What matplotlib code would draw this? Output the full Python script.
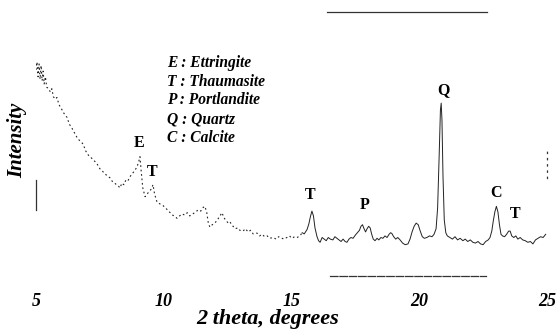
import matplotlib.pyplot as plt
import numpy as np

# ── Data ─────────────────────────────────────────────────────────────────────

two_theta = [
    5.00, 5.04, 5.08, 5.12, 5.16, 5.20, 5.24, 5.28, 5.32, 5.37,
    5.42, 5.50, 5.56, 5.62, 5.68, 5.75, 5.82, 5.90, 5.98, 6.06,
    6.14, 6.22, 6.30, 6.38, 6.45, 6.55, 6.65, 6.75, 6.84, 6.95,
    7.05, 7.15, 7.25, 7.39, 7.50, 7.60, 7.70, 7.80, 7.90, 8.00,
    8.08, 8.15, 8.22, 8.29, 8.36, 8.44, 8.52, 8.60, 8.68, 8.76,
    8.85, 8.95, 9.02, 9.07, 9.12, 9.18, 9.27, 9.35, 9.45, 9.52,
    9.58, 9.64, 9.74, 9.85, 9.97, 10.10, 10.22, 10.35, 10.45, 10.52,
    10.62, 10.72, 10.82, 10.92, 11.02, 11.14, 11.25, 11.35, 11.45, 11.52,
    11.61, 11.68, 11.75, 11.81, 11.90, 12.00, 12.10, 12.20, 12.28, 12.36,
    12.45, 12.52, 12.59, 12.70, 12.80, 12.90, 12.98, 13.10, 13.20, 13.30,
    13.40, 13.50, 13.65, 13.75, 13.85, 13.95, 14.05, 14.15, 14.28, 14.40,
    14.50, 14.60, 14.70, 14.82, 14.92, 15.02, 15.12, 15.22, 15.33, 15.42,
    15.50, 15.61, 15.68, 15.74, 15.80, 15.86, 15.92, 16.00, 16.06, 16.12,
    16.20, 16.28, 16.36, 16.44, 16.52, 16.62, 16.70, 16.78, 16.86, 16.94,
    17.02, 17.10, 17.17, 17.25, 17.33, 17.41, 17.50, 17.58, 17.66, 17.72,
    17.78, 17.84, 17.90, 17.96, 18.02, 18.08, 18.14, 18.20, 18.27, 18.35,
    18.42, 18.50, 18.58, 18.66, 18.74, 18.82, 18.88, 18.93, 19.00, 19.08,
    19.16, 19.25, 19.35, 19.45, 19.56, 19.64, 19.72, 19.80, 19.88, 19.96,
    20.04, 20.12, 20.20, 20.30, 20.40, 20.50, 20.58, 20.66, 20.72, 20.78,
    20.83, 20.86, 20.89, 20.93, 20.98, 21.04, 21.10, 21.20, 21.30, 21.40,
    21.50, 21.60, 21.71, 21.80, 21.90, 22.00, 22.10, 22.20, 22.30, 22.40,
    22.50, 22.60, 22.70, 22.77, 22.84, 22.90, 22.96, 23.02, 23.08, 23.14,
    23.20, 23.26, 23.34, 23.42, 23.50, 23.56, 23.62, 23.70, 23.78, 23.86,
    23.95, 24.05, 24.15, 24.25, 24.35, 24.45, 24.55, 24.65, 24.75, 24.85,
    24.95,
]
intensity = [
    515, 535, 498, 530, 492, 526, 488, 512, 480, 498,
    472, 468, 460, 468, 448, 442, 446, 428, 420, 410,
    402, 396, 380, 372, 365, 352, 342, 336, 330, 312,
    302, 296, 290, 280, 268, 262, 255, 250, 245, 235,
    232, 228, 225, 220, 232, 228, 240, 238, 248, 255,
    262, 272, 285, 298, 260, 220, 198, 205, 212, 218,
    228, 205, 184, 180, 176, 168, 160, 152, 148, 144,
    150, 155, 152, 158, 150, 155, 160, 165, 162, 170,
    174, 160, 130, 122, 128, 132, 140, 150, 158, 145,
    138, 132, 135, 125, 118, 120, 114, 112, 118, 110,
    114, 105, 107, 100, 104, 98, 100, 94, 96, 92,
    98, 95, 92, 96, 100, 94, 98, 96, 100, 108,
    105, 116, 130, 148, 162, 150, 120, 98, 88, 84,
    96, 92, 88, 96, 92, 90, 98, 94, 90, 86,
    92, 86, 84, 92, 96, 94, 102, 108, 114, 124,
    128, 118, 110, 118, 124, 120, 104, 92, 88, 94,
    90, 96, 94, 100, 96, 104, 108, 106, 98, 92,
    96, 90, 82, 78, 80, 92, 110, 124, 132, 128,
    112, 98, 94, 96, 100, 98, 104, 118, 170, 300,
    415, 432, 390, 250, 140, 108, 100, 96, 92, 98,
    90, 94, 88, 92, 86, 90, 84, 82, 86, 80,
    78, 86, 90, 96, 112, 138, 160, 174, 160, 128,
    104, 100, 98, 104, 112, 112, 100, 96, 100, 92,
    96, 90, 88, 84, 86, 80, 90, 94, 98, 96,
    104,
]

peak_labels = ["E", "T", "T", "P", "Q", "C", "T"]
peak_x = [9.03, 9.54, 15.72, 17.88, 20.93, 23.00, 23.75]
peak_y = [332, 260, 202, 177, 465, 207, 155]

legend_lines = [
    "E : Ettringite",
    "T : Thaumasite",
    "P : Portlandite",
    "Q : Quartz",
    "C : Calcite",
]

SERIF = ["Liberation Serif", "DejaVu Serif"]

# ── Plot ──────────────────────────────────────────────────────────────────────

fig = plt.figure(figsize=(5.57, 3.32), dpi=100)
ax = fig.add_axes([0.0646, 0.169, 0.9174, 0.795])

tt = np.array(two_theta)
ii = np.array(intensity)
split = np.searchsorted(tt, 15.4)

# the scan is broken up on the left side, solid on the right
ax.plot(tt[:split + 1], ii[:split + 1], color="#222222", linewidth=0.8,
        linestyle=(0, (1.5, 2.5)))
ax.plot(tt[split:], ii[split:], color="#222222", linewidth=0.7)

for lab, x, y in zip(peak_labels, peak_x, peak_y):
    ax.text(x, y, lab, ha="center", va="center", fontsize=11.5,
            fontweight="bold", family=SERIF)

for k, line in enumerate(legend_lines):
    ax.text(0.256, 0.807 - k * 0.071, line, transform=ax.transAxes,
            ha="left", va="center", fontsize=11.2, fontweight="bold",
            fontstyle="italic", family=SERIF)

ax.set_xlim(5, 25)
ax.set_ylim(0, 660)
ax.set_xticks([5, 10, 15, 20, 25])
ax.set_yticks([])
ax.tick_params(axis="x", length=0, pad=12)
for t in ax.get_xticklabels():
    t.set_fontfamily(SERIF)
    t.set_fontweight("bold")
    t.set_fontstyle("italic")
    t.set_fontsize(13)

# faded frame of the scanned original
for side in ("top", "bottom", "left", "right"):
    ax.spines[side].set_linewidth(0.9)
    ax.spines[side].set_color("#333333")
ax.spines["top"].set_bounds(16.4, 22.65)
ax.spines["bottom"].set_bounds(16.5, 22.6)
ax.spines["bottom"].set_linestyle((0, (6, 1.5)))
ax.spines["left"].set_bounds(165, 240)
ax.spines["right"].set_bounds(245, 320)
ax.spines["right"].set_linestyle((0, (1, 4)))

ax.set_xlabel("2 theta, degrees", fontsize=16, fontweight="bold",
              fontstyle="italic", family=SERIF)
ax.xaxis.set_label_coords(0.454, -0.125)
ax.set_ylabel("Intensity", fontsize=15, fontweight="bold",
              fontstyle="italic", family=SERIF)
ax.yaxis.set_label_coords(-0.018, 0.515)

fig.savefig("out.png", dpi=100)
